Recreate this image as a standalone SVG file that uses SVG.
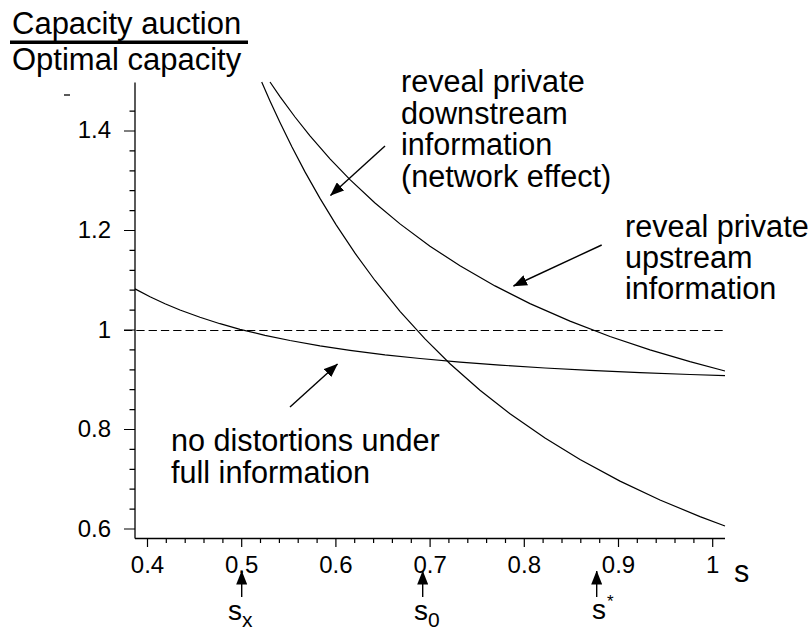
<svg xmlns="http://www.w3.org/2000/svg" width="812" height="631" viewBox="0 0 812 631">
<defs>
<style>
text{font-family:"Liberation Sans",Arial,Helvetica,sans-serif;fill:#000}
.lbl{font-size:30.6px}
.ttl{font-size:31px}
.tick{font-size:24px}
.ax{stroke:#000;stroke-width:1.3;fill:none}
.tk{stroke:#000;stroke-width:1.2}
.crv{stroke:#000;stroke-width:1.2;fill:none}
.arr{stroke:#000;stroke-width:1.4;fill:none;marker-end:url(#ah)}
</style>
<marker id="ah" markerUnits="userSpaceOnUse" markerWidth="14" markerHeight="11" refX="13.5" refY="5.5" orient="auto">
<path d="M0,0 L14,5.5 L0,11 z" fill="#000"/>
</marker>
</defs>
<rect width="812" height="631" fill="#fff"/>

<g id="ylabel">
<text class="ttl" x="12" y="34">Capacity auction</text>
<rect x="10" y="40.5" width="238" height="3.5" fill="#000"/>
<text class="ttl" x="12" y="70">Optimal capacity</text>
<line x1="64" y1="95" x2="70" y2="95" stroke="#000" stroke-width="1.3"/>
</g>

<g id="axes">
<line class="ax" x1="135" y1="82.5" x2="135" y2="538.5"/>
<line class="ax" x1="135" y1="538.5" x2="725" y2="538.5"/>
<path class="tk" d="M124,529 H135 M124,429.5 H135 M124,330 H135 M124,230.5 H135 M124,131 H135
M129.5,509.1 H135 M129.5,489.2 H135 M129.5,469.3 H135 M129.5,449.4 H135
M129.5,409.6 H135 M129.5,389.7 H135 M129.5,369.8 H135 M129.5,349.9 H135
M129.5,310.1 H135 M129.5,290.2 H135 M129.5,270.3 H135 M129.5,250.4 H135
M129.5,210.6 H135 M129.5,190.7 H135 M129.5,170.8 H135 M129.5,150.9 H135
M129.5,111.1 H135"/>
<path class="tk" d="M147.5,538.5 V547 M241.7,538.5 V547 M335.9,538.5 V547 M430.1,538.5 V547 M524.3,538.5 V547 M618.5,538.5 V547 M712.7,538.5 V547
M166.3,538.5 V543 M185.2,538.5 V543 M204,538.5 V543 M222.9,538.5 V543
M260.5,538.5 V543 M279.4,538.5 V543 M298.2,538.5 V543 M317.1,538.5 V543
M354.7,538.5 V543 M373.6,538.5 V543 M392.4,538.5 V543 M411.3,538.5 V543
M448.9,538.5 V543 M467.8,538.5 V543 M486.6,538.5 V543 M505.5,538.5 V543
M543.1,538.5 V543 M562,538.5 V543 M580.8,538.5 V543 M599.7,538.5 V543
M637.3,538.5 V543 M656.2,538.5 V543 M675,538.5 V543 M693.9,538.5 V543"/>
<g class="tick" text-anchor="end">
<text x="111" y="138">1.4</text>
<text x="111" y="238">1.2</text>
<text x="111" y="338">1</text>
<text x="111" y="437">0.8</text>
<text x="111" y="537">0.6</text>
</g>
<g class="tick" text-anchor="middle">
<text x="147.5" y="573">0.4</text>
<text x="241.7" y="573">0.5</text>
<text x="335.9" y="573">0.6</text>
<text x="430.1" y="573">0.7</text>
<text x="524.3" y="573">0.8</text>
<text x="618.5" y="573">0.9</text>
<text x="712.7" y="573">1</text>
</g>
<text class="lbl" x="734" y="582">s</text>
</g>

<g id="reference-line">
<line x1="124" y1="330.5" x2="723" y2="330.5" stroke="#000" stroke-width="1.1" stroke-dasharray="8.3 4"/>
</g>

<g id="curves">
<path id="curve-full-info" class="crv" d="M135,288.9 L150,296.8 L165,303.8 L180,310 L200,317.3 L220,323.7 L240,329.3 L265,335.3 L290,340.5 L320,345.8 L350,350.3 L385,354.8 L420,358.5 L460,362.1 L500,365.1 L545,368 L590,370.4 L640,372.7 L690,374.5 L725,375.7"/>
<path id="curve-downstream" class="crv" d="M261.7,82 L270,101 L280,122.6 L292,147.1 L305,171.9 L320,198.4 L336,224.6 L355,253.2 L375,280.5 L400,311.3 L425,338.9 L450,363.7 L480,390.2 L510,413.8 L545,438.1 L580,459.6 L620,481.1 L660,500 L700,516.6 L725,526"/>
<path id="curve-upstream" class="crv" d="M270,82 L280,96.6 L295,117 L310,135.8 L330,158.8 L350,179.6 L375,203 L400,223.9 L430,246.2 L460,265.8 L495,285.9 L530,303.6 L570,321.1 L610,336.5 L650,349.9 L690,361.7 L725,371"/>
</g>

<g id="annotation-downstream">
<text class="lbl" x="401" y="92">reveal private</text>
<text class="lbl" x="401" y="123.5">downstream</text>
<text class="lbl" x="401" y="155">information</text>
<text class="lbl" x="401" y="186.5">(network effect)</text>
</g>
<g id="annotation-upstream">
<text class="lbl" x="625" y="237">reveal private</text>
<text class="lbl" x="625" y="268">upstream</text>
<text class="lbl" x="625" y="299">information</text>
</g>
<g id="annotation-full-info">
<text class="lbl" x="171" y="451">no distortions under</text>
<text class="lbl" x="171" y="482.5">full information</text>
</g>

<g id="marks">
<text x="228" y="620" style="font-size:28px">s</text>
<text x="242" y="627" style="font-size:21px">x</text>
<text x="414" y="620" style="font-size:28px">s</text>
<text x="428" y="627" style="font-size:21px">0</text>
<text x="592" y="619" style="font-size:28px">s</text>
<text x="607" y="607" style="font-size:17px">*</text>
</g>

<g id="connectors">
<line class="arr" x1="385" y1="146" x2="330.5" y2="195.5"/>
<line class="arr" x1="601.7" y1="245" x2="513.5" y2="286"/>
<line class="arr" x1="290" y1="407" x2="337.5" y2="364"/>
<line class="arr" x1="241.7" y1="597" x2="241.7" y2="571"/>
<line class="arr" x1="422.7" y1="597" x2="422.7" y2="571"/>
<line class="arr" x1="596.7" y1="597" x2="596.7" y2="571"/>
</g>
</svg>
